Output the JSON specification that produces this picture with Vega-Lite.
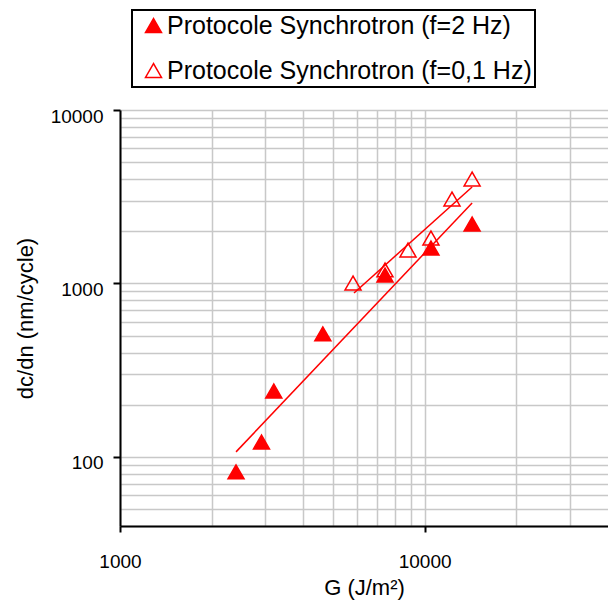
{
  "$schema": "https://vega.github.io/schema/vega-lite/v6.json",
  "width": 488,
  "height": 416,
  "autosize": {"type": "none"},
  "padding": {"left": 120, "top": 110, "right": 0, "bottom": 76},
  "background": "white",
  "config": {
    "font": "Liberation Sans",
    "view": {"stroke": null},
    "legend": {"strokeWidth": 2}
  },
  "data": {
    "values": [
      {"G": 5821, "dcdn": 1006, "serie": "Protocole Synchrotron (f=0,1 Hz)", "kind": "point"},
      {"G": 7413, "dcdn": 1197, "serie": "Protocole Synchrotron (f=0,1 Hz)", "kind": "point"},
      {"G": 8820, "dcdn": 1560, "serie": "Protocole Synchrotron (f=0,1 Hz)", "kind": "point"},
      {"G": 10490, "dcdn": 1829, "serie": "Protocole Synchrotron (f=0,1 Hz)", "kind": "point"},
      {"G": 12300, "dcdn": 3070, "serie": "Protocole Synchrotron (f=0,1 Hz)", "kind": "point"},
      {"G": 14320, "dcdn": 4000, "serie": "Protocole Synchrotron (f=0,1 Hz)", "kind": "point"},
      {"G": 2404, "dcdn": 82, "serie": "Protocole Synchrotron (f=2 Hz)", "kind": "point"},
      {"G": 2914, "dcdn": 122, "serie": "Protocole Synchrotron (f=2 Hz)", "kind": "point"},
      {"G": 3198, "dcdn": 240, "serie": "Protocole Synchrotron (f=2 Hz)", "kind": "point"},
      {"G": 4634, "dcdn": 512, "serie": "Protocole Synchrotron (f=2 Hz)", "kind": "point"},
      {"G": 7413, "dcdn": 1119, "serie": "Protocole Synchrotron (f=2 Hz)", "kind": "point"},
      {"G": 10490, "dcdn": 1602, "serie": "Protocole Synchrotron (f=2 Hz)", "kind": "point"},
      {"G": 14320, "dcdn": 2203, "serie": "Protocole Synchrotron (f=2 Hz)", "kind": "point"},
      {"G": 2404, "dcdn": 107, "serie": "Protocole Synchrotron (f=2 Hz)", "kind": "fit"},
      {"G": 14320, "dcdn": 2911, "serie": "Protocole Synchrotron (f=2 Hz)", "kind": "fit"},
      {"G": 5864, "dcdn": 881, "serie": "Protocole Synchrotron (f=0,1 Hz)", "kind": "fit"},
      {"G": 14320, "dcdn": 3597, "serie": "Protocole Synchrotron (f=0,1 Hz)", "kind": "fit"}
    ]
  },
  "encoding": {
    "x": {
      "field": "G",
      "type": "quantitative",
      "scale": {"type": "log", "domain": [1000, 40000], "nice": false},
      "axis": {
        "title": "G (J/m²)",
        "values": [1000, 2000, 3000, 4000, 5000, 6000, 7000, 8000, 9000, 10000, 20000, 30000],
        "grid": true,
        "gridColor": "#c8c8c8",
        "gridWidth": 1.5,
        "domainColor": "black",
        "domainWidth": 2,
        "tickColor": "black",
        "tickWidth": 2,
        "tickSize": 6,
        "tickOpacity": {"condition": {"test": "datum.value == 1000 || datum.value == 10000", "value": 1}, "value": 0},
        "labelExpr": "datum.value == 1000 || datum.value == 10000 ? format(datum.value, 'd') : ''",
        "labelFontSize": 19,
        "labelColor": "black",
        "labelPadding": 20,
        "labelOverlap": false,
        "labelFlush": false,
        "titleFontSize": 22,
        "titleFontWeight": "normal",
        "titleColor": "black",
        "titleBaseline": "alphabetic",
        "titleAlign": "center",
        "titleY": 68,
        "titleX": 244
      }
    },
    "y": {
      "field": "dcdn",
      "type": "quantitative",
      "scale": {"type": "log", "domain": [40, 10000], "nice": false},
      "axis": {
        "title": "dc/dn (nm/cycle)",
        "values": [40, 50, 60, 70, 80, 90, 100, 200, 300, 400, 500, 600, 700, 800, 900, 1000, 2000, 3000, 4000, 5000, 6000, 7000, 8000, 9000, 10000],
        "grid": true,
        "gridColor": "#c8c8c8",
        "gridWidth": 1.5,
        "domainColor": "black",
        "domainWidth": 2,
        "tickColor": "black",
        "tickWidth": 2,
        "tickSize": 7,
        "tickOpacity": {"condition": {"test": "datum.value == 100 || datum.value == 1000 || datum.value == 10000", "value": 1}, "value": 0},
        "labelExpr": "datum.value == 100 || datum.value == 1000 || datum.value == 10000 ? format(datum.value, 'd') : ''",
        "labelFontSize": 19,
        "labelColor": "black",
        "labelPadding": 10,
        "labelBaseline": "middle",
        "labelOffset": 6,
        "labelOverlap": false,
        "labelFlush": false,
        "titleFontSize": 22,
        "titleFontWeight": "normal",
        "titleColor": "black",
        "titleAngle": -90,
        "titleBaseline": "alphabetic",
        "titleAlign": "center",
        "titleX": -88,
        "titleY": 208
      }
    }
  },
  "layer": [
    {
      "transform": [{"filter": "datum.kind == 'fit'"}],
      "mark": {"type": "line", "color": "#ff0000", "strokeWidth": 1.5},
      "encoding": {"detail": {"field": "serie", "type": "nominal"}}
    },
    {
      "transform": [{"filter": "datum.kind == 'point'"}],
      "mark": {"type": "point", "shape": "triangle-up", "size": 256, "filled": true, "stroke": "#ff0000", "strokeWidth": 1.5, "opacity": 1, "fillOpacity": 1},
      "encoding": {
        "fill": {
          "field": "serie",
          "type": "nominal",
          "scale": {"domain": ["Protocole Synchrotron (f=2 Hz)", "Protocole Synchrotron (f=0,1 Hz)"], "range": ["#ff0000", "transparent"]},
          "legend": {
            "title": null,
            "orient": "none",
            "legendX": 12,
            "legendY": -100,
            "strokeColor": "black",
            "padding": 3,
            "symbolType": "triangle-up",
            "symbolSize": 256,
            "symbolStrokeColor": "#ff0000",
            "symbolStrokeWidth": 1.5,
            "symbolOpacity": 1,
            "symbolOffset": 6,
            "labelOffset": 1,
            "labelFontSize": 25,
            "labelColor": "black",
            "labelLimit": 1000,
            "rowPadding": 19
          }
        }
      }
    }
  ]
}
